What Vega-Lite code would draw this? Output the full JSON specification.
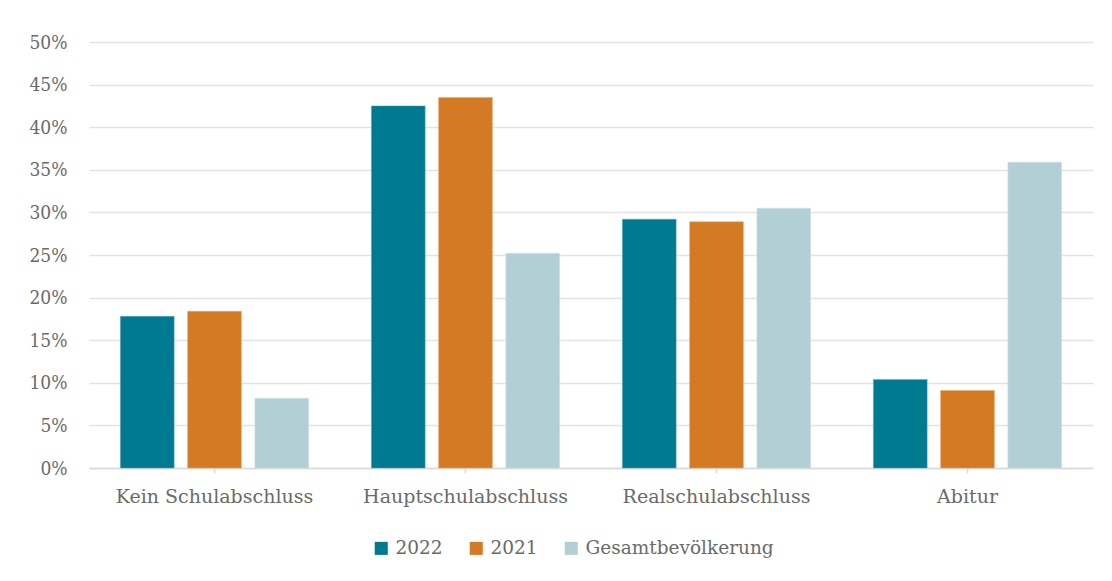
{
  "$schema": "https://vega.github.io/schema/vega-lite/v6.json",
  "width": 1004,
  "height": 426,
  "autosize": {"type": "none"},
  "padding": {"left": 89, "top": 42, "right": 19, "bottom": 113},
  "background": "white",
  "config": {
    "view": {"stroke": null},
    "font": "DejaVu Serif",
    "axis": {"labelFont": "DejaVu Serif", "labelFontWeight": "normal", "labelColor": "#6a6a6a", "labelFontSize": 19, "labelLimit": 300},
    "legend": {"labelFont": "DejaVu Serif", "labelFontWeight": "normal", "labelColor": "#6a6a6a", "labelFontSize": 18.5, "labelLimit": 400}
  },
  "data": {
    "values": [
      {"abschluss": "Kein Schulabschluss", "gruppe": "2022", "anteil": 0.178},
      {"abschluss": "Kein Schulabschluss", "gruppe": "2021", "anteil": 0.184},
      {"abschluss": "Kein Schulabschluss", "gruppe": "Gesamtbevölkerung", "anteil": 0.082},
      {"abschluss": "Hauptschulabschluss", "gruppe": "2022", "anteil": 0.425},
      {"abschluss": "Hauptschulabschluss", "gruppe": "2021", "anteil": 0.435},
      {"abschluss": "Hauptschulabschluss", "gruppe": "Gesamtbevölkerung", "anteil": 0.252},
      {"abschluss": "Realschulabschluss", "gruppe": "2022", "anteil": 0.292},
      {"abschluss": "Realschulabschluss", "gruppe": "2021", "anteil": 0.289},
      {"abschluss": "Realschulabschluss", "gruppe": "Gesamtbevölkerung", "anteil": 0.305},
      {"abschluss": "Abitur", "gruppe": "2022", "anteil": 0.104},
      {"abschluss": "Abitur", "gruppe": "2021", "anteil": 0.091},
      {"abschluss": "Abitur", "gruppe": "Gesamtbevölkerung", "anteil": 0.359}
    ]
  },
  "mark": {"type": "bar", "strokeWidth": 1, "strokeOpacity": 0.5},
  "encoding": {
    "x": {
      "field": "abschluss",
      "type": "nominal",
      "sort": ["Kein Schulabschluss", "Hauptschulabschluss", "Realschulabschluss", "Abitur"],
      "scale": {"paddingInner": 0.25, "paddingOuter": 0.125},
      "axis": {
        "title": null,
        "labelAngle": 0,
        "domainColor": "#d9d9d9",
        "domainWidth": 1.5,
        "tickColor": "#d9d9d9",
        "tickWidth": 1.5,
        "tickSize": 5,
        "labelPadding": 14,
        "grid": false
      }
    },
    "xOffset": {
      "field": "gruppe",
      "type": "nominal",
      "sort": ["2022", "2021", "Gesamtbevölkerung"],
      "scale": {"paddingInner": 0.2, "paddingOuter": 0}
    },
    "y": {
      "field": "anteil",
      "type": "quantitative",
      "scale": {"domain": [0, 0.5]},
      "axis": {
        "title": null,
        "format": ".0%",
        "values": [0, 0.05, 0.1, 0.15, 0.2, 0.25, 0.3, 0.35, 0.4, 0.45, 0.5],
        "domain": false,
        "ticks": false,
        "labelFont": "DejaVu Serif Condensed",
        "labelFontSize": 19,
        "labelPadding": 22,
        "gridColor": "#e3e3e7",
        "gridWidth": 1.5
      }
    },
    "color": {
      "field": "gruppe",
      "type": "nominal",
      "sort": ["2022", "2021", "Gesamtbevölkerung"],
      "scale": {"domain": ["2022", "2021", "Gesamtbevölkerung"], "range": ["#007a91", "#d57a24", "#b3cfd6"]},
      "legend": {
        "title": null,
        "orient": "none",
        "direction": "horizontal",
        "legendX": 283,
        "legendY": 497,
        "symbolType": "square",
        "symbolSize": 170,
        "symbolStrokeWidth": 0,
        "labelOffset": 5,
        "columnPadding": 24
      }
    },
    "stroke": {
      "field": "gruppe",
      "type": "nominal",
      "scale": {"domain": ["2022", "2021", "Gesamtbevölkerung"], "range": ["#5fa9b8", "#eaa864", "#d3e3e7"]},
      "legend": null
    }
  }
}
